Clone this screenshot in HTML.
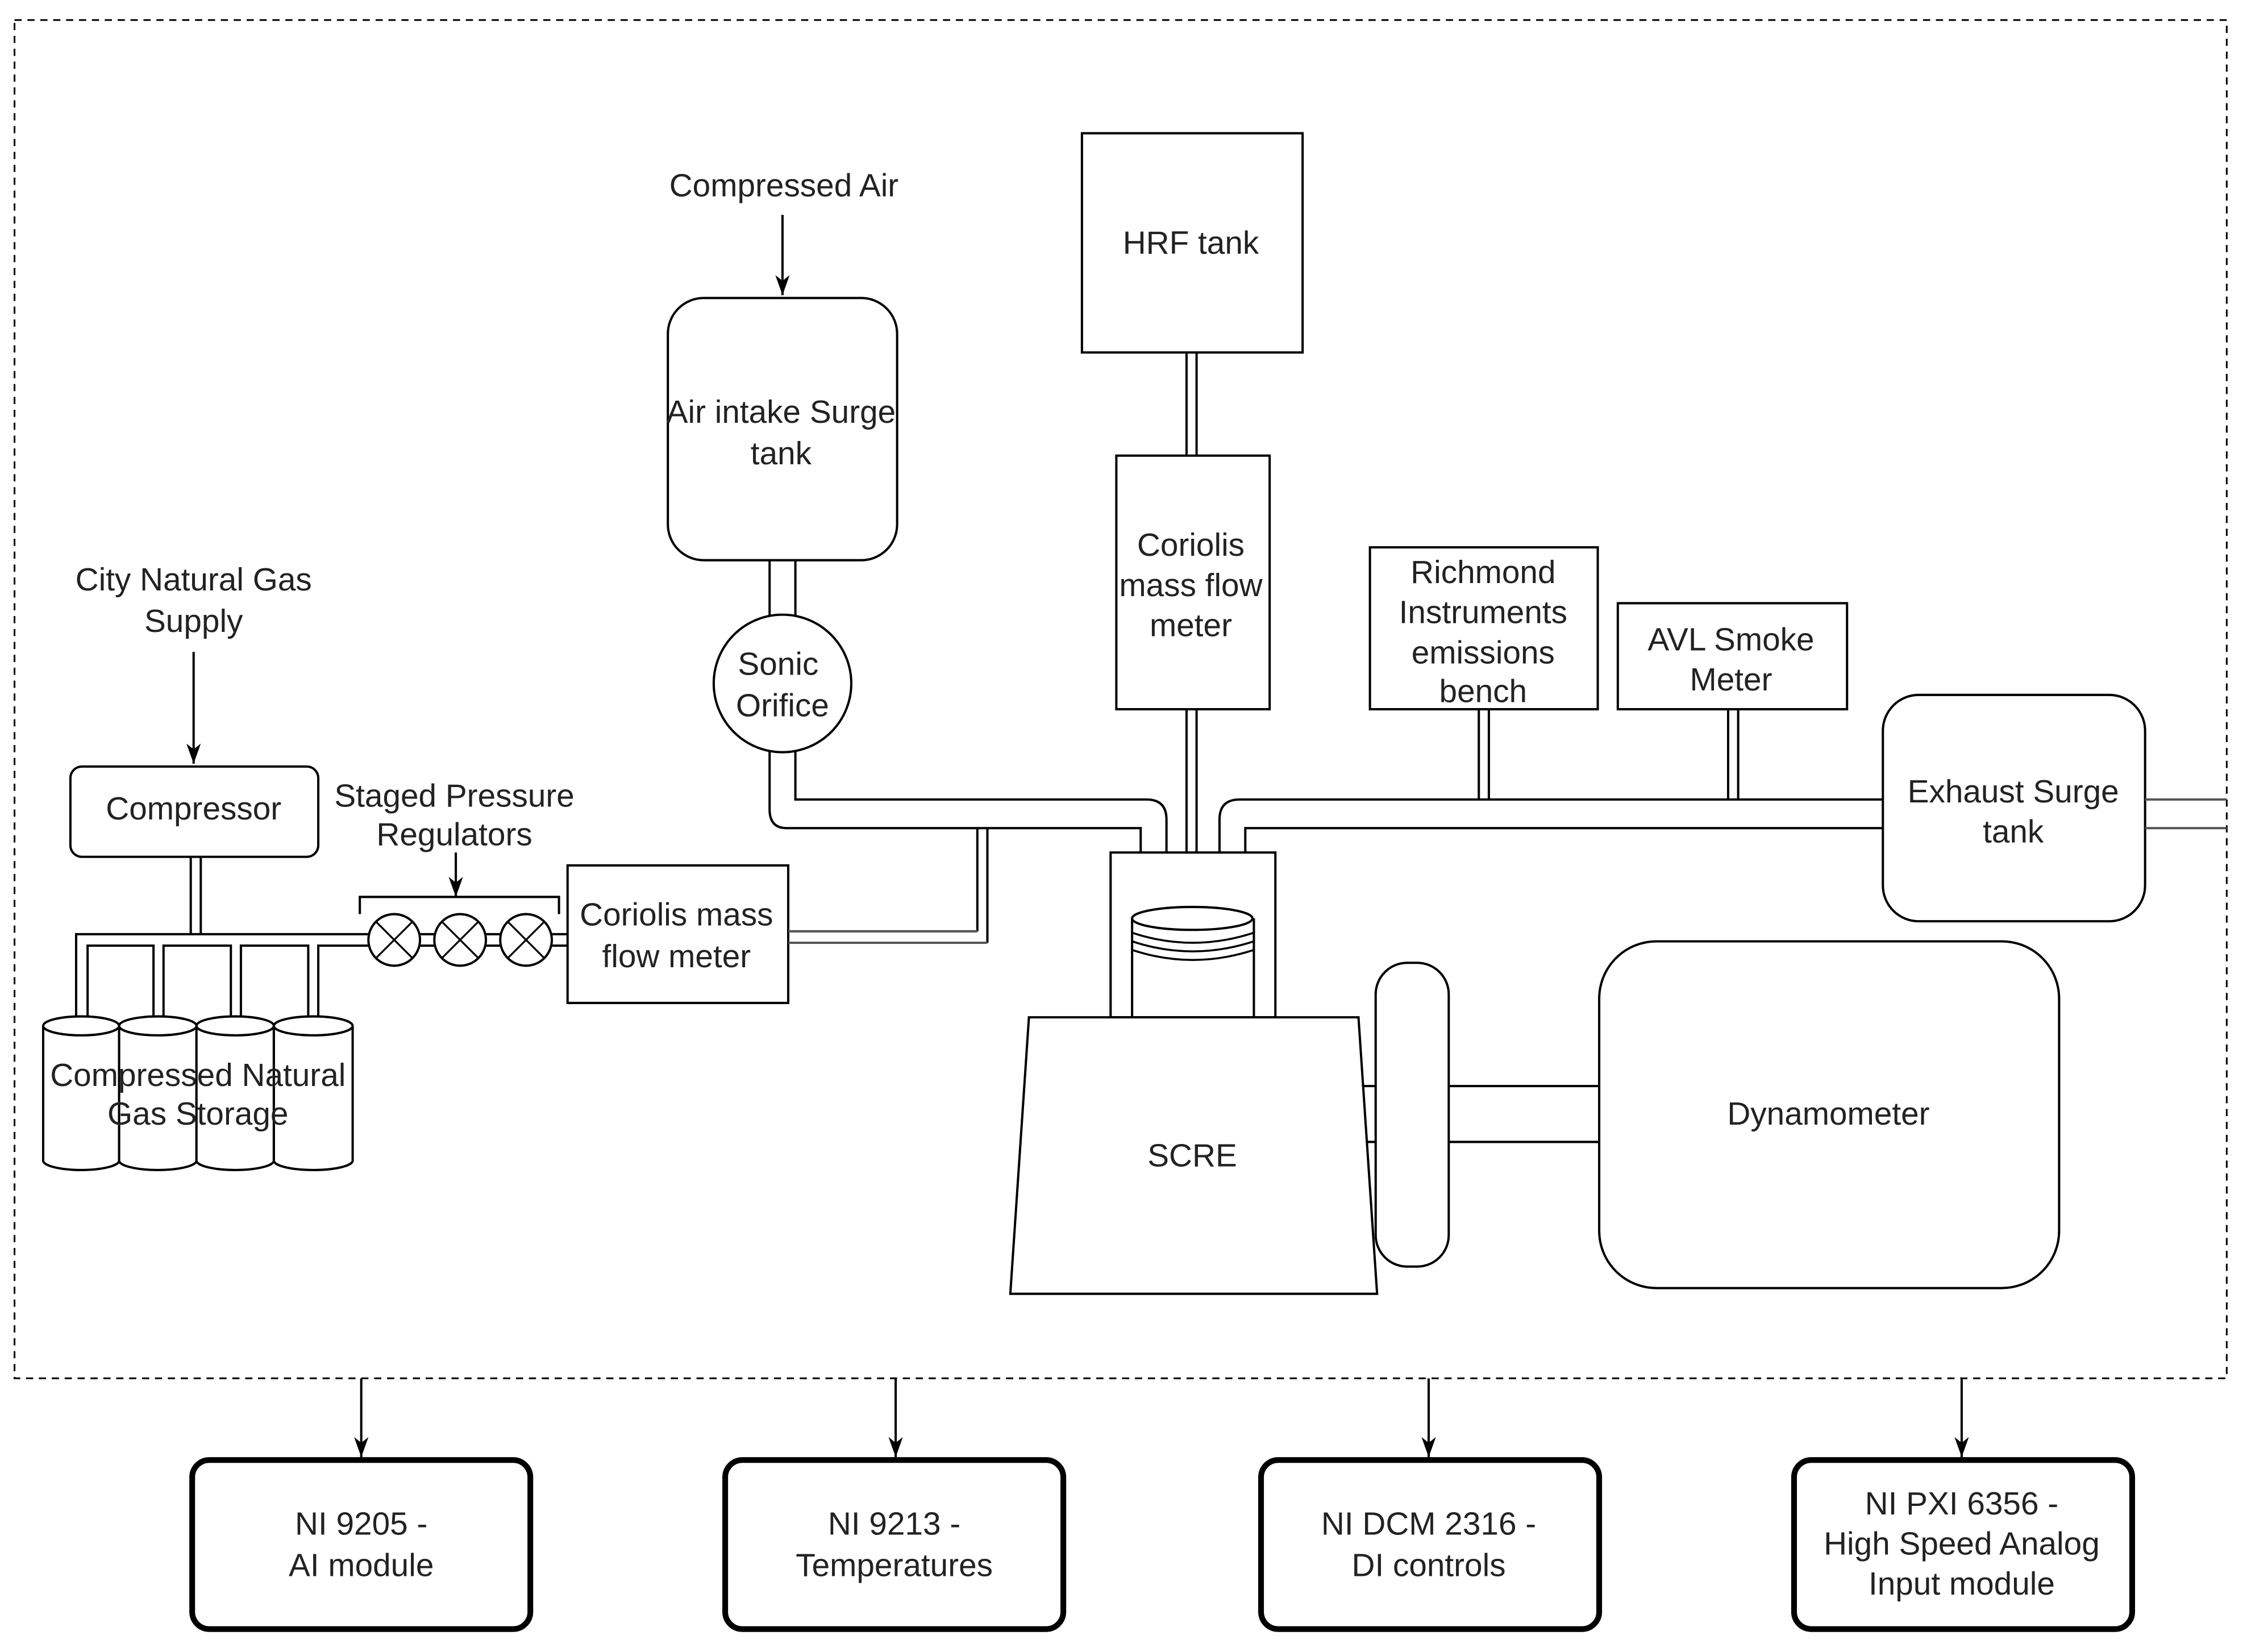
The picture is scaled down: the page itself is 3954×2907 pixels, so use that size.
<!DOCTYPE html>
<html><head><meta charset="utf-8"><style>
html,body{margin:0;padding:0;background:#fff;}
svg{display:block;}
text{font-family:"Liberation Sans",Arial,sans-serif;font-size:22.5px;fill:#222;text-anchor:middle;}
</style></head><body>
<svg width="3954" height="2907" viewBox="0 0 1568 1153" xmlns="http://www.w3.org/2000/svg">
<defs>
<marker id="ad" viewBox="0 0 12 14" markerWidth="12" markerHeight="14" refX="6" refY="14" orient="0" markerUnits="userSpaceOnUse"><path d="M1,0 L6,14 L11,0 L6,4 Z" fill="#000"/></marker></defs>
<rect x="0" y="0" width="1568" height="1153" fill="#fff"/>
<g fill="none" stroke="#000" stroke-width="1.6">
<rect x="10" y="14" width="1544" height="948" stroke-dasharray="5,4" stroke-width="1.2"/>
<line x1="546" y1="150" x2="546" y2="206" marker-end="url(#ad)"/>
<rect x="466" y="208" width="160" height="183" rx="25"/>
<line x1="537" y1="391" x2="537" y2="432"/><line x1="555" y1="391" x2="555" y2="432"/>
<circle cx="546" cy="477" r="48" fill="#fff"/>
<path d="M537,524 V565 Q537,578 549,578 H796 V595"/>
<path d="M555,524 V558 H800 Q814,558 814,572 V595"/>
<path d="M682,650 V578 M689,658 V578"/>
<rect x="755" y="93" width="154" height="153"/>
<line x1="828" y1="246" x2="828" y2="318"/><line x1="835" y1="246" x2="835" y2="318"/>
<rect x="779" y="318" width="107" height="177"/>
<line x1="828" y1="495" x2="828" y2="595"/><line x1="835" y1="495" x2="835" y2="595"/>
<path d="M851,595 V572 Q851,558 865,558 H1314"/>
<path d="M869,595 V578 H1314"/>
<rect x="956" y="382" width="159" height="113"/>
<line x1="1032" y1="495" x2="1032" y2="558"/><line x1="1039" y1="495" x2="1039" y2="558"/>
<rect x="1129" y="421" width="160" height="74"/>
<line x1="1206" y1="495" x2="1206" y2="558"/><line x1="1213" y1="495" x2="1213" y2="558"/>
<rect x="1314" y="485" width="183" height="158" rx="25" fill="#fff"/>
<line x1="1497" y1="558" x2="1554" y2="558" stroke="#555"/><line x1="1497" y1="578" x2="1554" y2="578" stroke="#555"/>
<rect x="775" y="595" width="115" height="115" fill="#fff"/>
<path d="M790,710 V641 M875,710 V641"/>
<ellipse cx="832" cy="641" rx="42" ry="8" fill="#fff"/>
<path d="M790,651 Q832,665 875,651 M790,657 Q832,671 875,657 M790,663 Q832,677 875,663" stroke-width="1.4"/>
<line x1="948" y1="758" x2="1116" y2="758"/><line x1="948" y1="797" x2="1116" y2="797"/>
<path d="M718,710 H948 L961,903 H705 Z" fill="#fff"/>
<rect x="960" y="672" width="51" height="212" rx="22" fill="#fff"/>
<rect x="1116" y="657" width="321" height="242" rx="40" fill="#fff"/>
<line x1="135" y1="455" x2="135" y2="533" marker-end="url(#ad)"/>
<rect x="49" y="535" width="173" height="63" rx="8"/>
<line x1="133" y1="598" x2="133" y2="652"/><line x1="140" y1="598" x2="140" y2="652"/>
<path d="M53,712 V652 H258"/>
<path d="M61,712 V660 H107 V712 M114,712 V660 H161 V712 M168,712 V660 H215 V712 M222,712 V660 H258"/>
<g fill="#fff">
<path d="M30,716 V810 A26.5,6.6 0 0 0 83,810 V716"/><ellipse cx="56.5" cy="716" rx="26.5" ry="6.6"/>
<path d="M83,716 V810 A27,6.6 0 0 0 137,810 V716"/><ellipse cx="110" cy="716" rx="27" ry="6.6"/>
<path d="M137,716 V810 A27,6.6 0 0 0 191,810 V716"/><ellipse cx="164" cy="716" rx="27" ry="6.6"/>
<path d="M191,716 V810 A27.5,6.6 0 0 0 246,810 V716"/><ellipse cx="218.5" cy="716" rx="27.5" ry="6.6"/>
</g>
<path d="M293,652 H303 M293,660 H303 M339,652 H349 M339,660 H349 M385,652 H396 M385,660 H396"/>
<g fill="#fff">
<circle cx="275" cy="656" r="18"/><circle cx="321" cy="656" r="18"/><circle cx="367" cy="656" r="18"/>
</g>
<path d="M262,643 L288,669 M288,643 L262,669 M308,643 L334,669 M334,643 L308,669 M354,643 L380,669 M380,643 L354,669" stroke-width="1.3"/>
<path d="M251,638 V626 H390 V638"/>
<line x1="318" y1="595" x2="318" y2="626" marker-end="url(#ad)"/>
<rect x="396" y="604" width="154" height="96"/>
<path d="M550,650 H682 M550,658 H689" stroke="#555"/>
<line x1="252" y1="962" x2="252" y2="1017" marker-end="url(#ad)"/>
<line x1="625" y1="962" x2="625" y2="1017" marker-end="url(#ad)"/>
<line x1="997" y1="962" x2="997" y2="1017" marker-end="url(#ad)"/>
<line x1="1369" y1="962" x2="1369" y2="1017" marker-end="url(#ad)"/>
<g stroke-width="4">
<rect x="134" y="1019" width="236" height="118" rx="12"/>
<rect x="506" y="1019" width="236" height="118" rx="12"/>
<rect x="880" y="1019" width="236" height="118" rx="12"/>
<rect x="1252" y="1019" width="236" height="118" rx="12"/>
</g>
</g>
<g>
<text x="547" y="137">Compressed Air</text>
<text x="545" y="295">Air intake Surge</text><text x="545" y="324">tank</text>
<text x="543" y="471">Sonic</text><text x="546" y="500">Orifice</text>
<text x="831" y="177">HRF tank</text>
<text x="831" y="388">Coriolis</text><text x="831" y="416">mass flow</text><text x="831" y="444">meter</text>
<text x="1035" y="407">Richmond</text><text x="1035" y="435">Instruments</text><text x="1035" y="463">emissions</text><text x="1035" y="490">bench</text>
<text x="1208" y="454">AVL Smoke</text><text x="1208" y="482">Meter</text>
<text x="1405" y="560">Exhaust Surge</text><text x="1405" y="588">tank</text>
<text x="832" y="814">SCRE</text>
<text x="1276" y="785">Dynamometer</text>
<text x="135" y="412">City Natural Gas</text><text x="135" y="441">Supply</text>
<text x="135" y="572">Compressor</text>
<text x="317" y="563">Staged Pressure</text><text x="317" y="590">Regulators</text>
<text x="472" y="646">Coriolis mass</text><text x="472" y="675">flow meter</text>
<text x="138" y="758">Compressed Natural</text><text x="138" y="785">Gas Storage</text>
<text x="252" y="1071">NI 9205 -</text><text x="252" y="1100">AI module</text>
<text x="624" y="1071">NI 9213 -</text><text x="624" y="1100">Temperatures</text>
<text x="997" y="1071">NI DCM 2316 -</text><text x="997" y="1100">DI controls</text>
<text x="1369" y="1057">NI PXI 6356 -</text><text x="1369" y="1085">High Speed Analog</text><text x="1369" y="1113">Input module</text>
</g>
</svg>
</body></html>
